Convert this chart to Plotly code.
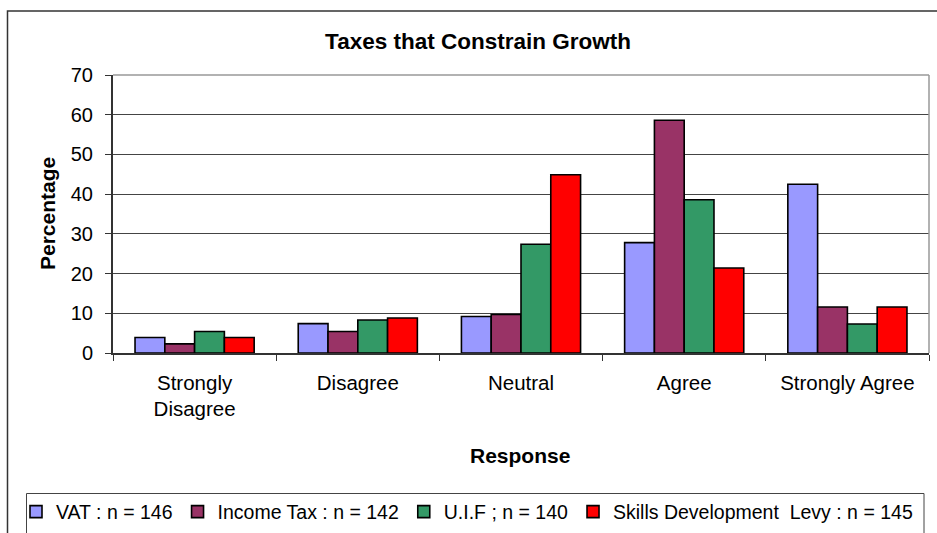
import plotly.graph_objects as go

categories = ["Strongly<br>Disagree", "Disagree", "Neutral", "Agree", "Strongly Agree"]
series_names = ["VAT : n = 146", "Income Tax : n = 142", "U.I.F ; n = 140",
                "Skills Development  Levy : n = 145"]
vat = [3.9, 7.4, 9.2, 27.8, 42.5]
income_tax = [2.3, 5.4, 9.7, 58.6, 11.6]
uif = [5.4, 8.3, 27.4, 38.6, 7.3]
sdl = [3.9, 8.8, 44.9, 21.4, 11.6]
colors = ["#9999FF", "#993366", "#339966", "#FF0000"]
y_ticks = [0, 10, 20, 30, 40, 50, 60, 70]

W, H = 937, 533
L, R, T, B = 113, 929, 75, 353
pw, ph = R - L, B - T


def px(x):
    return (x - L) / pw


def py(y):
    return (B - y) / ph


FONT = "Arial, Liberation Sans, sans-serif"

fig = go.Figure()
for name, vals, c in zip(series_names, [vat, income_tax, uif, sdl], colors):
    fig.add_trace(go.Bar(
        x=categories, y=vals, name=name.replace("  ", " &nbsp;"),
        marker=dict(color=c, line=dict(color="black", width=1.6)),
    ))

fig.update_layout(
    width=W, height=H,
    margin=dict(l=L, r=W - R, t=T, b=H - B, autoexpand=False),
    paper_bgcolor="white", plot_bgcolor="white",
    barmode="group", bargap=0.27, bargroupgap=0,
    font=dict(family=FONT, color="black", size=19),
    title=dict(text="<b>Taxes that Constrain Growth</b>", font=dict(size=22.5),
               xref="container", yref="container", x=478 / W, y=1 - 41 / H,
               xanchor="center", yanchor="middle"),
    showlegend=True,
    legend=dict(orientation="h", xref="paper", yref="paper",
                x=px(16), y=py(512), xanchor="left", yanchor="middle",
                font=dict(size=19.5), bgcolor="rgba(0,0,0,0)", borderwidth=0,
                itemwidth=30, tracegroupgap=0),
    xaxis=dict(showgrid=False, ticks="outside", tickson="boundaries", ticklen=6,
               tickcolor="#333", tickwidth=1, showline=True, linecolor="#333",
               linewidth=2, ticklabelstandoff=10, tickfont=dict(size=20.5)),
    yaxis=dict(range=[0, 70], tickvals=y_ticks, showgrid=True, gridcolor="#444",
               gridwidth=1, zeroline=False, ticks="outside", ticklen=6,
               tickcolor="#333", showline=True, linecolor="#333", linewidth=2,
               ticklabelstandoff=8, tickfont=dict(size=20)),
)

shapes = [
    # plot area top and right border
    dict(type="line", xref="paper", yref="paper", x0=0, x1=1, y0=1, y1=1,
         line=dict(color="#999", width=1.5), layer="above"),
    dict(type="line", xref="paper", yref="paper", x0=1, x1=1, y0=0, y1=1,
         line=dict(color="#999", width=1.5), layer="above"),
    # outer chart border
    dict(type="rect", xref="paper", yref="paper",
         x0=px(7.5), x1=px(945), y0=py(545), y1=py(11),
         line=dict(color="#333", width=1.5), fillcolor="rgba(0,0,0,0)", layer="above"),
    # legend box
    dict(type="rect", xref="paper", yref="paper",
         x0=px(26.5), x1=px(924), y0=py(545), y1=py(493.5),
         line=dict(color="#444", width=1), fillcolor="rgba(0,0,0,0)", layer="above"),
]
fig.update_layout(shapes=shapes)

fig.add_annotation(text="<b>Percentage</b>", xref="paper", yref="paper",
                   x=px(47), y=0.5, textangle=-90, showarrow=False,
                   font=dict(size=21), xanchor="center", yanchor="middle")
fig.add_annotation(text="<b>Response</b>", xref="paper", yref="paper",
                   x=px(520), y=py(455), showarrow=False,
                   font=dict(size=21), xanchor="center", yanchor="middle")

fig.write_html("out.html")
